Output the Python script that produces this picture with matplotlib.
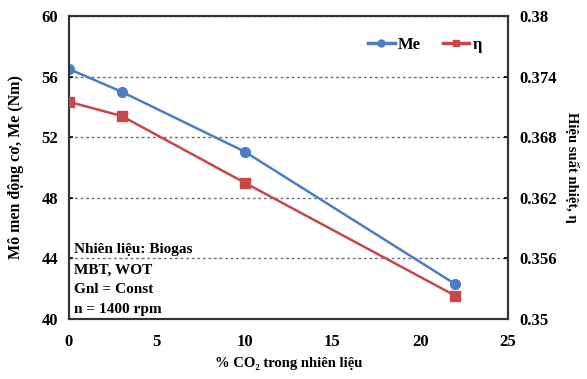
import matplotlib
matplotlib.use("Agg")
import matplotlib.pyplot as plt
from matplotlib.lines import Line2D

plt.rcParams["font.family"] = ["Liberation Serif", "DejaVu Serif"]
plt.rcParams["font.weight"] = "bold"

co2 = [0, 3, 10, 22]
me = [56.5, 55.0, 51.05, 42.3]
eta = [0.3715, 0.3701, 0.3635, 0.3523]

x_ticks = [0, 5, 10, 15, 20, 25]
me_ticks = [40, 44, 48, 52, 56, 60]
eta_ticks = [0.35, 0.356, 0.362, 0.368, 0.374, 0.38]
eta_labels = ["0.35", "0.356", "0.362", "0.368", "0.374", "0.38"]
notes = ["Nhiên liệu: Biogas", "MBT, WOT", "Gnl = Const", "n = 1400 rpm"]

blue = "#4A7EC2"
red = "#C8474A"
fs = 12

fig = plt.figure(figsize=(5.87, 3.79), dpi=100)
ax = fig.add_axes([0.1175, 0.1583, 0.748, 0.7995])
ax2 = ax.twinx()

ax.set_xlim(0, 25)
ax.set_ylim(40, 60)
ax2.set_ylim(0.35, 0.38)
ax.set_xticks(x_ticks)
ax.set_yticks(me_ticks)
ax2.set_yticks(eta_ticks)
ax2.set_yticklabels(eta_labels)

ax.yaxis.grid(True, color="#707070", linestyle=(0, (2, 2)), linewidth=1.0)
ax.set_axisbelow(True)

ax.plot(co2, me, color=blue, lw=1.8, marker="o", ms=7, zorder=3)
ax2.plot(co2, eta, color=red, lw=1.8, marker="s", ms=7, zorder=3)

for a in (ax, ax2):
    for s in a.spines.values():
        s.set_linewidth(1.5)
        s.set_color("#333333")
ax.tick_params(axis="both", direction="in", length=3, width=1.2, labelsize=fs, pad=8)
ax.tick_params(axis="x", length=0, pad=11)
ax2.tick_params(axis="y", direction="in", length=3, width=1.2, labelsize=fs, pad=8)

ax.set_ylabel("Mô men động cơ, Me (Nm)", fontsize=fs - 0.5, fontweight="bold", labelpad=12)
ax2.set_ylabel("Hiệu suất nhiệt, η", fontsize=fs - 1.5, fontweight="bold",
               rotation=270, labelpad=16)
ax.set_xlabel("% CO₂ trong nhiên liệu", fontsize=fs - 1.5, fontweight="bold", labelpad=5)

for i, line in enumerate(notes):
    ax.text(0.012, 0.228 - i * 0.066, line, transform=ax.transAxes,
            fontsize=fs - 1, fontweight="bold", va="center", ha="left")

handles = [
    Line2D([], [], color=blue, lw=2.5, marker="o", ms=5),
    Line2D([], [], color=red, lw=2.5, marker="s", ms=5),
]
ax.legend(handles, ["Me", "η"], loc="upper right", ncol=2, frameon=False,
          bbox_to_anchor=(0.975, 0.98), handlelength=1.6, handletextpad=0.2,
          columnspacing=1.3, prop={"size": fs, "weight": "bold"})

fig.savefig("out.png", dpi=100)
